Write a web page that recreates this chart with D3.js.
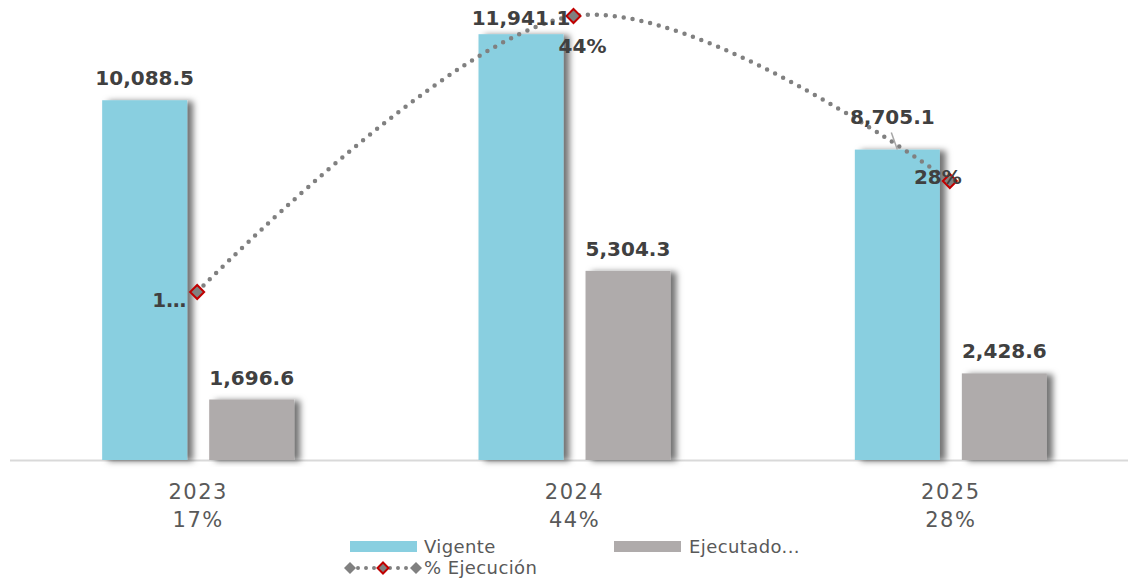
<!DOCTYPE html>
<html>
<head>
<meta charset="utf-8">
<script src="https://cdn.jsdelivr.net/npm/d3@7"></script>
<style>
  html, body { margin: 0; padding: 0; background: #ffffff; }
  svg { display: block; }
</style>
</head>
<body>
<svg id="chart" width="1134" height="579"></svg>
<script>
// ---- data ----
const categories = ["2023", "2024", "2025"];
const seriesNames = ["Vigente", "Ejecutado"];
const vigente = [10088.5, 11941.1, 8705.1];
const ejecutado = [1696.6, 5304.3, 2428.6];
const pctEjecucion = [16.8, 44.4, 27.9];
const pctLabels = ["1…", "44%", "28%"];
const axisPctLabels = ["17%", "44%", "28%"];
const legendLabels = ["Vigente", "Ejecutado...", "% Ejecución"];

// ---- setup ----
const svg = d3.select("#chart");
const colors = { Vigente: "#89cfe0", Ejecutado: "#afabab" };
const labelColor = "#404040";
const axisColor = "#595959";
const font = "'DejaVu Sans', sans-serif";

const defs = svg.append("defs");
const f = defs.append("filter").attr("id", "shadow")
  .attr("x", "-20%").attr("y", "-10%").attr("width", "160%").attr("height", "120%");
f.append("feDropShadow").attr("dx", 6).attr("dy", 1).attr("stdDeviation", 3)
  .attr("flood-color", "#000").attr("flood-opacity", 0.55);

const x0 = d3.scaleBand().domain(categories).range([10, 1139]).padding(0);
const bw0 = x0.bandwidth();
const x1 = d3.scaleBand().domain(seriesNames)
  .range([bw0 / 2 - 96, bw0 / 2 + 96]).paddingInner(0.206).paddingOuter(0);
const y = d3.scaleLinear().domain([0, 12900]).range([460, 0]);
const yPct = d3.scaleLinear().domain([0, 46]).range([460, 0]);

// axis baseline
svg.append("line")
  .attr("x1", 10).attr("x2", 1128)
  .attr("y1", y(0) + 0.5).attr("y2", y(0) + 0.5)
  .attr("stroke", "#d9d9d9").attr("stroke-width", 2);

// bars
const rows = categories.map((c, i) => ({ cat: c, i, values: [
  { key: "Vigente", value: vigente[i] },
  { key: "Ejecutado", value: ejecutado[i] }
]}));

const groups = svg.append("g").selectAll("g").data(rows).join("g")
  .attr("transform", d => `translate(${x0(d.cat)},0)`);

groups.selectAll("rect").data(d => d.values).join("rect")
  .attr("x", d => x1(d.key))
  .attr("y", d => y(d.value))
  .attr("width", x1.bandwidth())
  .attr("height", d => y(0) - y(d.value))
  .attr("fill", d => colors[d.key])
  .attr("filter", "url(#shadow)");

// line (% Ejecución)
const pts = categories.map((c, i) => [x0(c) + bw0 / 2 - 1, yPct(pctEjecucion[i])]);
const lineGen = d3.line().curve(d3.curveCardinal.tension(0));
svg.append("path")
  .attr("d", lineGen(pts))
  .attr("fill", "none")
  .attr("stroke", "#808080")
  .attr("stroke-width", 4.5)
  .attr("stroke-linecap", "round")
  .attr("stroke-dasharray", "0,9");

function drawDiamond(g, cx, cy, r, stroke) {
  g.append("path")
    .attr("d", `M${cx},${cy - r}L${cx + r},${cy}L${cx},${cy + r}L${cx - r},${cy}Z`)
    .attr("fill", "#808080")
    .attr("stroke", stroke || "none")
    .attr("stroke-width", 2);
}
const markerG = svg.append("g");
pts.forEach(p => drawDiamond(markerG, p[0], p[1], 7, "#c00000"));

// bar value labels
const fmt = d3.format(",.1f");
const labG = svg.append("g")
  .attr("font-family", font).attr("font-weight", "bold")
  .attr("font-size", 20).attr("fill", labelColor).attr("text-anchor", "middle");

rows.forEach(r => {
  r.values.forEach(v => {
    const cx = x0(r.cat) + x1(v.key) + x1.bandwidth() / 2;
    const top = y(v.value);
    let tx = cx, ty = Math.max(top - 15, 25);
    if (v.key === "Vigente" && r.i === 2) {
      tx = cx - 5; ty = top - 26;
      svg.append("line")
        .attr("x1", tx - 1).attr("y1", ty + 9)
        .attr("x2", cx).attr("y2", top)
        .attr("stroke", "#a6a6a6").attr("stroke-width", 1.5);
    }
    labG.append("text").attr("x", tx).attr("y", ty).text(fmt(v.value));
  });
});

// percent labels
const pctG = svg.append("g")
  .attr("font-family", font).attr("font-weight", "bold")
  .attr("font-size", 20).attr("fill", labelColor);
const pctPos = [
  { dx: -11, dy: 15, anchor: "end" },
  { dx: 9, dy: 37, anchor: "middle" },
  { dx: -12, dy: 3, anchor: "middle" }
];
pts.forEach((p, i) => {
  pctG.append("text")
    .attr("x", p[0] + pctPos[i].dx).attr("y", p[1] + pctPos[i].dy)
    .attr("text-anchor", pctPos[i].anchor)
    .text(pctLabels[i]);
});

// category axis labels
const axG = svg.append("g")
  .attr("font-family", font).attr("font-size", 21)
  .attr("fill", axisColor).attr("text-anchor", "middle")
  .attr("letter-spacing", 1.5);
categories.forEach((c, i) => {
  const cx = x0(c) + bw0 / 2;
  axG.append("text").attr("x", cx).attr("y", 499).text(c);
  axG.append("text").attr("x", cx).attr("y", 527).text(axisPctLabels[i]);
});

// legend
const lg = svg.append("g")
  .attr("font-family", font).attr("font-size", 18).attr("fill", axisColor)
  .attr("letter-spacing", 0.4);
lg.append("rect").attr("x", 350).attr("y", 541).attr("width", 67).attr("height", 11).attr("fill", colors.Vigente);
lg.append("text").attr("x", 424).attr("y", 553).text(legendLabels[0]);
lg.append("rect").attr("x", 614).attr("y", 541).attr("width", 67).attr("height", 11).attr("fill", colors.Ejecutado);
lg.append("text").attr("x", 689).attr("y", 553).text(legendLabels[1]);
lg.append("path").attr("d", "M350,568L417,568")
  .attr("stroke", "#808080").attr("stroke-width", 4).attr("stroke-linecap", "round")
  .attr("stroke-dasharray", "0,8");
drawDiamond(lg, 350, 568, 6);
drawDiamond(lg, 383, 568, 5.5, "#c00000");
drawDiamond(lg, 416, 568, 6);
lg.append("text").attr("x", 424).attr("y", 574).text(legendLabels[2]);
</script>
</body>
</html>
